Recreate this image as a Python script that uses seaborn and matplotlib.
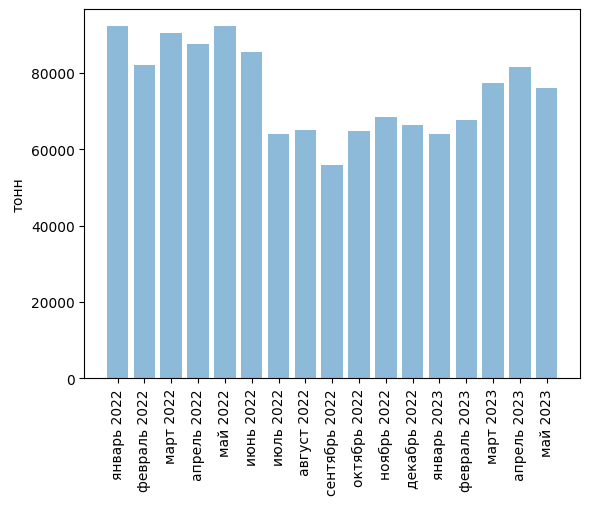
import matplotlib
matplotlib.use("Agg")
import matplotlib.pyplot as plt
import seaborn as sns
import pandas as pd

months = ["январь 2022", "февраль 2022", "март 2022", "апрель 2022", "май 2022",
          "июнь 2022", "июль 2022", "август 2022", "сентябрь 2022", "октябрь 2022",
          "ноябрь 2022", "декабрь 2022", "январь 2023", "февраль 2023", "март 2023",
          "апрель 2023", "май 2023"]
tons = [92200, 81900, 90300, 87400, 92200, 85300, 64000, 65100, 55900, 64800,
        68500, 66400, 64000, 67700, 77200, 81400, 76100]

df = pd.DataFrame({"month": months, "tons": tons})

fig = plt.figure(figsize=(5.89, 5.06), dpi=100)
ax = fig.add_axes([84.3 / 589, 1 - 379.3 / 506, (580 - 84.3) / 589, (379.3 - 9.5) / 506])

sns.barplot(data=df, x="month", y="tons", ax=ax, color="#1f77b4", saturation=1,
            alpha=0.5, width=0.8, edgecolor="none", linewidth=0, errorbar=None)

ax.set_xlim(-1.24, len(months) - 1 + 0.24 + 1.0 - 0.0 - 0.0)
ax.set_xlim(-0.4 - 0.84, len(months) - 1 + 0.4 + 0.84)
ax.set_ylim(0, 96810)
ax.set_xlabel("")
ax.set_ylabel("тонн")
ax.tick_params(axis="x", labelrotation=90)

fig.savefig("out.png", dpi=100)
